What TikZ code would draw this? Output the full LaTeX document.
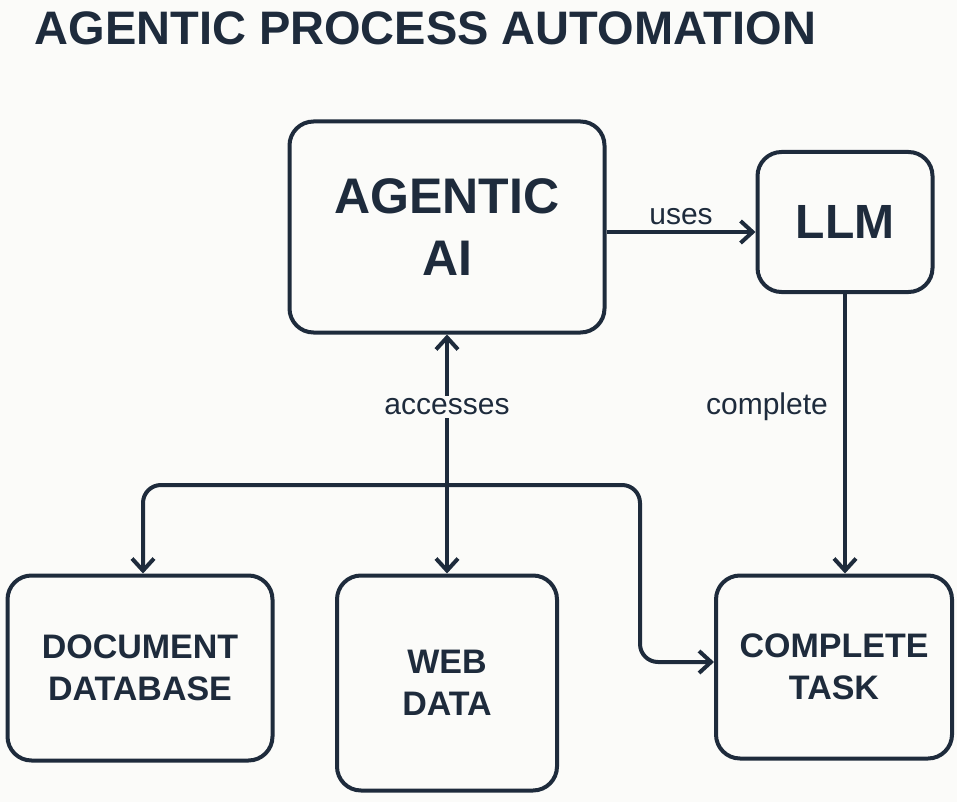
\documentclass[tikz,border=0pt]{standalone}
\usepackage{fontspec}
\setmainfont{Liberation Sans}
\usetikzlibrary{arrows.meta}
\definecolor{ink}{HTML}{1E2B3C}
\definecolor{paper}{HTML}{FBFBF9}
\begin{document}
\begin{tikzpicture}[x=1pt,y=-1pt,
  box/.style={draw=ink,line width=4pt,rounded corners=24pt,text=ink,align=center,font=\bfseries},
  link/.style={draw=ink,line width=4pt,-{Straight Barb[length=12pt,width=22pt,line width=4pt]}},
  lbl/.style={text=ink,font=\fontsize{30}{32}\selectfont}]
\fill[paper] (0,0) rectangle (957,802);
\useasboundingbox (0,0) rectangle (957,802);
\node[anchor=base west,text=ink,font=\fontsize{47}{50}\selectfont\bfseries] (title) at (31,45) {AGENTIC PROCESS AUTOMATION};
% boxes
\node[box,minimum width=315pt,minimum height=211pt,font=\fontsize{50}{62}\selectfont\bfseries] (ai) at (447,227) {AGENTIC\\AI};
\node[box,minimum width=175pt,minimum height=140pt,font=\fontsize{48}{56}\selectfont\bfseries] (llm) at (845,222) {LLM};
\node[box,minimum width=265pt,minimum height=185pt,font=\fontsize{34}{42}\selectfont\bfseries] (doc) at (140,668) {DOCUMENT\\DATABASE};
\node[box,minimum width=220pt,minimum height=215pt,font=\fontsize{34}{42}\selectfont\bfseries] (web) at (447,683) {WEB\\DATA};
\node[box,minimum width=236pt,minimum height=183pt,font=\fontsize{34}{42}\selectfont\bfseries] (task) at (834,667) {COMPLETE\\TASK};
% connectors
\coordinate (hub) at (447,485);
\draw[link] (ai.east |- 0,232) -- (llm.west |- 0,232) node[lbl,midway,above=2pt] {uses};
\draw[link] (llm.south) -- (task.north -| llm.south);
\node[lbl] (cmpl) at (767,407) {complete};
\draw[link,{Straight Barb[length=12pt,width=22pt,line width=4pt]}-{Straight Barb[length=12pt,width=22pt,line width=4pt]}] (ai.south) -- (web.north);
\node[lbl,fill=paper,inner sep=3pt] (acc) at (447,407) {accesses};
\draw[link,rounded corners=18pt] (hub) -| (doc.north -| 143,0);
\draw[link,rounded corners=18pt] (hub) -| (640,662) -- (task.west |- 0,662);
\end{tikzpicture}
\end{document}
